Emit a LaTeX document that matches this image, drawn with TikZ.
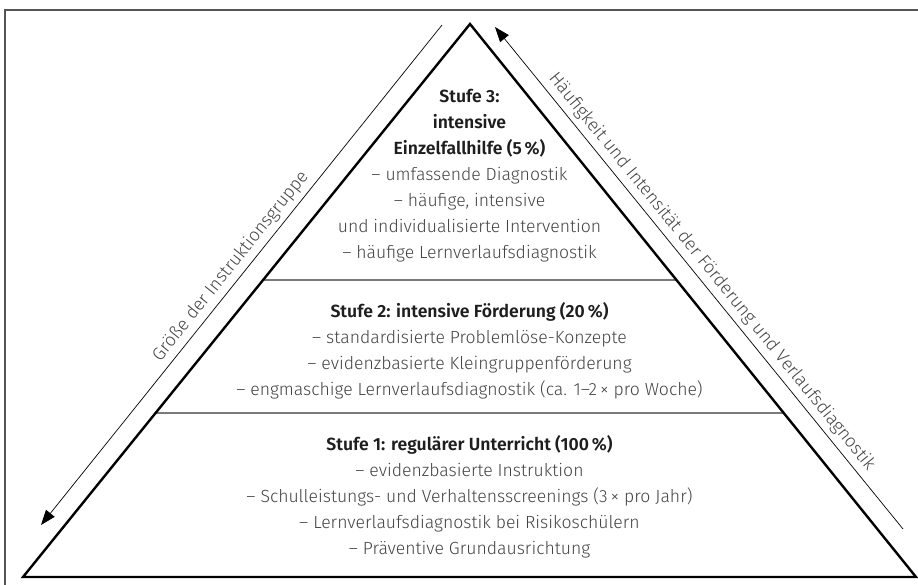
\documentclass[tikz,border=0pt]{standalone}
\usepackage{fontspec}
\setmainfont{Fira Sans}[UprightFont={* Light},BoldFont={* SemiBold}]
\usetikzlibrary{arrows.meta,calc}
\definecolor{bodytext}{HTML}{444444}
\definecolor{headtext}{HTML}{1E1E1E}
\definecolor{dividergray}{HTML}{7A7A7A}
\definecolor{framegray}{HTML}{555555}
\begin{document}
\begin{tikzpicture}[x=1pt,y=-1pt,
  pyr/.style={line width=2.4pt, line join=miter},
  divider/.style={draw=dividergray, line width=1.3pt},
  sidearrow/.style={line width=0.7pt, -{Triangle[length=15pt,width=11pt]}},
  tier/.style={align=center, text=bodytext, inner sep=0pt, font=\fontsize{17.6}{26}\selectfont},
  sidelabel/.style={text=bodytext, font=\fontsize{18}{20}\selectfont, sloped, above=4pt, inner sep=1pt}]
\useasboundingbox (0,0) rectangle (918,584);
\draw[framegray, line width=1.2pt] (930,10) -- (5,10) -- (5,600);
\coordinate (apex) at (470,24);
\coordinate (bl) at (23,577);
\coordinate (br) at (916,577);
\coordinate (d3l) at ($(apex)!0.4629!(bl)$);
\coordinate (d3r) at ($(apex)!0.4629!(br)$);
\coordinate (d2l) at ($(apex)!0.7034!(bl)$);
\coordinate (d2r) at ($(apex)!0.7034!(br)$);
\draw[divider] (d3l) -- (d3r);
\draw[divider] (d2l) -- (d2r);
\draw[pyr] (apex) -- (br) -- (bl) -- cycle;
\coordinate (latop) at (442,25);
\coordinate (labot) at (41,525);
\coordinate (ratop) at (495,27);
\coordinate (rabot) at (903,529);
\draw[sidearrow] (latop) -- (labot);
\draw[sidearrow] (rabot) -- (ratop);
\path (labot) -- (latop) node[sidelabel, pos=0.5] (lbl) {Größe der Instruktionsgruppe};
\path (ratop) -- (rabot) node[sidelabel, pos=0.505] (rbl) {Häufigkeit und Intensität der Förderung und Verlaufsdiagnostik};
\node[tier] (t3) at (469.5,176) {{\color{headtext}\bfseries Stufe 3:}\\
{\color{headtext}\bfseries intensive}\\
{\color{headtext}\bfseries Einzelfallhilfe (5\,\%)}\\
– umfassende Diagnostik\\
– häufige, intensive\\
und individualisierte Intervention\\
– häufige Lernverlaufsdiagnostik};
\node[tier] (t2) at (469.5,351) {{\color{headtext}\bfseries Stufe 2: intensive Förderung (20\,\%)}\\
– standardisierte Problemlöse-Konzepte\\
– evidenzbasierte Kleingruppenförderung\\
– engmaschige Lernverlaufsdiagnostik (ca. 1–2\,× pro Woche)};
\node[tier] (t1) at (469.5,497) {{\color{headtext}\bfseries Stufe 1: regulärer Unterricht (100\,\%)}\\
– evidenzbasierte Instruktion\\
– Schulleistungs- und Verhaltensscreenings (3\,× pro Jahr)\\
– Lernverlaufsdiagnostik bei Risikoschülern\\
– Präventive Grundausrichtung};
\end{tikzpicture}
\end{document}
